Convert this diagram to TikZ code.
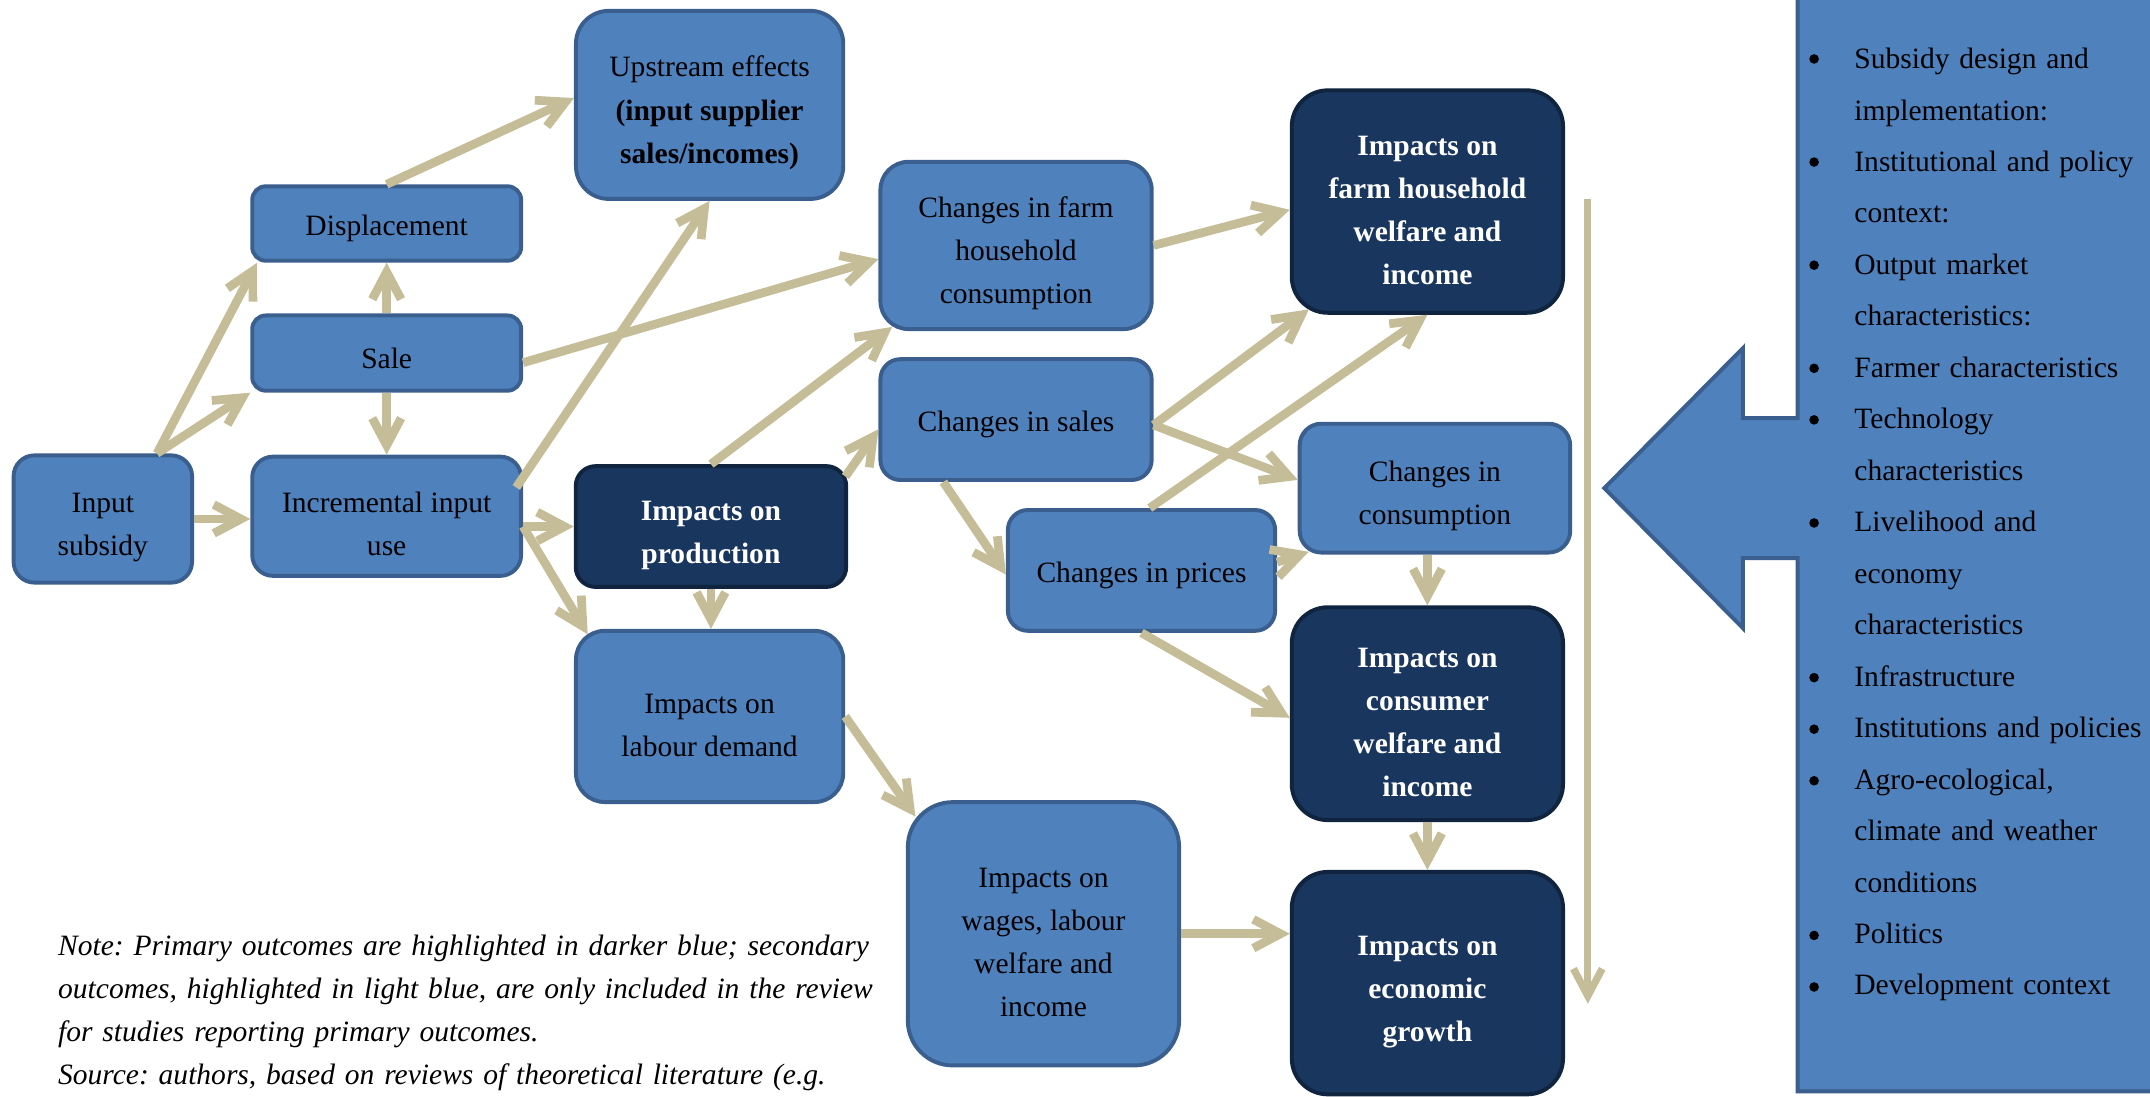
\documentclass[tikz,border=0pt]{standalone}
\usepackage{fontspec}
\setmainfont{Liberation Serif}
\usetikzlibrary{arrows.meta}
\usetikzlibrary{calc}
\frenchspacing

\definecolor{lightfill}{HTML}{4F81BD}
\definecolor{lightedge}{HTML}{3A5F8E}
\definecolor{darkfill}{HTML}{18365E}
\definecolor{darkedge}{HTML}{10243F}
\definecolor{flowtan}{HTML}{C4BD97}

\newcommand{\boxfont}{\fontsize{10.5}{15.3}\selectfont}
\newcommand{\listfont}{\fontsize{10.5}{18.3}\selectfont}
\newcommand{\lift}{\rule{0pt}{13pt}}

\tikzset{
  lightbox/.style={draw=lightedge, fill=lightfill, line width=1.4pt, rounded corners=#1, align=center, inner sep=0pt, font=\boxfont, execute at begin node={\rule{0pt}{11pt}}},
  lightbox/.default=0.25cm,
  darkbox/.style={draw=darkedge, fill=darkfill, line width=1.4pt, rounded corners=#1, align=center, inner sep=0pt, text=white, font=\boxfont\bfseries, execute at begin node={\rule{0pt}{11pt}}},
  darkbox/.default=0.45cm,
  flow/.style={draw=flowtan, line width=3.1pt, -{Straight Barb[length=0.34cm, width=0.36cm]}},
  dot/.style={circle, fill=black, inner sep=0pt, minimum size=0.12cm},
}

\begin{document}
\begin{tikzpicture}[x=0.01714cm, y=-0.01714cm]
\useasboundingbox (0,0) rectangle (1568,800);
\clip (0,0) rectangle (1568,800);

% context panel with arrow
\draw[draw=lightedge, fill=lightfill, line width=1.4pt, line join=miter] (1311,-10) -- (1311,305) -- (1271,305) -- (1271,254) -- (1170,356) -- (1271,458) -- (1271,407) -- (1311,407) -- (1311,796) -- (1580,796) -- (1580,-10) -- cycle;

% chain boxes
\node[lightbox=0.26cm, minimum width=2.23cm, minimum height=1.59cm] (subsidy) at (75,378.5) {\lift Input\\subsidy};
\node[lightbox=0.17cm, minimum width=3.36cm, minimum height=0.93cm] (displace) at (282,163) {Displacement};
\node[lightbox=0.17cm, minimum width=3.36cm, minimum height=0.94cm] (sale) at (282,257.5) {Sale};
\node[lightbox=0.26cm, minimum width=3.36cm, minimum height=1.49cm] (increm) at (282,376.5) {\lift Incremental input\\use};
\node[lightbox=0.41cm, minimum width=3.34cm, minimum height=2.35cm] (upstream) at (517.5,76.5) {\lift Upstream effects\\\textbf{(input supplier}\\\textbf{sales/incomes)}};
\node[darkbox=0.25cm, minimum width=3.38cm, minimum height=1.51cm] (prod) at (518.5,384) {\lift Impacts on\\production};
\node[lightbox=0.36cm, minimum width=3.34cm, minimum height=2.14cm] (labour) at (517.5,522.5) {\lift Impacts on\\labour demand};
\node[lightbox=0.35cm, minimum width=3.39cm, minimum height=2.09cm] (farmcons) at (741,179) {\lift Changes in farm\\household\\consumption};
\node[lightbox=0.25cm, minimum width=3.39cm, minimum height=1.51cm] (sales) at (741,306) {Changes in sales};
\node[lightbox=0.25cm, minimum width=3.34cm, minimum height=1.51cm] (prices) at (832.5,416) {Changes in prices};
\node[lightbox=0.27cm, minimum width=3.38cm, minimum height=1.61cm] (cons) at (1046.5,356) {\lift Changes in\\consumption};
\node[darkbox, minimum width=3.39cm, minimum height=2.78cm] (farmwelf) at (1041,147) {\lift Impacts on\\farm household\\welfare and\\income};
\node[darkbox, minimum width=3.39cm, minimum height=2.66cm] (conswelf) at (1041,520.5) {\lift Impacts on\\consumer\\welfare and\\income};
\node[lightbox=0.56cm, minimum width=3.39cm, minimum height=3.29cm] (wages) at (761,681) {\lift Impacts on\\wages, labour\\welfare and\\income};
\node[darkbox, minimum width=3.39cm, minimum height=2.78cm] (growth) at (1041,717) {\lift Impacts on\\economic\\growth};

% links
\draw[flow] ($(subsidy.north east)+(-27,0)$) -- ($(displace.south west)+(5,0)$);
\draw[flow] ($(subsidy.north east)+(-27,0)$) -- (sale.south west);
\draw[flow] (subsidy.east) -- (subsidy.east -| increm.west);
\draw[flow] (sale) -- (displace);
\draw[flow] (sale) -- (increm);
\draw[flow] (displace.north) -- ($(upstream.west)+(0,-5)$);
\draw[flow] ($(increm.east)+(-5,-21)$) -- (upstream.south);
\draw[flow] ($(sale.east)+(0,7)$) -- ($(farmcons.west)+(0,10)$);
\draw[flow] (increm.east |- prod.west) -- (prod.west);
\draw[flow] (increm.east |- prod.west) -- ($(labour.north west)+(10,4)$);
\draw[flow] (prod.south) -- (prod.south |- labour.north);
\draw[flow] (prod.north) -- ($(farmcons.south west)+(10,-3)$);
\draw[flow] ($(prod.north east)+(-2,9)$) -- ($(sales.west)+(0,7)$);
\draw[flow] (farmcons.east) -- ($(farmwelf.west)+(0,6)$);
\draw[flow] ($(sales.east)+(0,4)$) -- ($(farmwelf.south west)+(14,-4)$);
\draw[flow] ($(sales.east)+(0,4)$) -- ($(cons.west)+(0,-6)$);
\draw[flow] ($(prices.north)+(6,0)$) -- (farmwelf.south);
\draw[flow] ($(sales.south)+(-53,0)$) -- ($(prices.west)+(0,3)$);
\draw[flow] ($(prices.east)+(0,-6)$) -- ($(cons.south west)+(8,-2)$);
\draw[flow] (cons.south -| conswelf.north) -- (conswelf.north);
\draw[flow] (prices.south) -- ($(conswelf.west)+(0,3)$);
\draw[flow] (conswelf) -- (growth);
\draw[flow] (labour.east) -- ($(wages.north west)+(7,12)$);
\draw[flow] (wages.east) -- (wages.east -| growth.west);

% context arrow
\coordinate (ctxtop) at (1158,145);
\coordinate (ctxbot) at (1158,732);
\draw[flow, line width=2.6pt] (ctxtop) -- (ctxbot);

% context list
\foreach \k in {0,2,4,6,7,9,12,13,14,17,18}
  \node[dot] (dot\k) at (1323,{43+37.6*\k}) {};
\node[anchor=base west, inner sep=0pt, text width=3.7cm, align=left, font=\listfont] (factors) at (1352,50) {Subsidy design and\\implementation:\\Institutional and policy\\context:\\Output market\\characteristics:\\Farmer characteristics\\Technology\\characteristics\\Livelihood and\\economy\\characteristics\\Infrastructure\\Institutions and policies\\Agro-ecological,\\climate and weather\\conditions\\Politics\\Development context};

% note
\node[anchor=base west, inner sep=0pt, text width=11cm, align=left, font=\boxfont\itshape] (note) at (42,697) {Note: Primary outcomes are highlighted in darker blue; secondary\\outcomes, highlighted in light blue, are only included in the review\\for studies reporting primary outcomes.\\Source: authors, based on reviews of theoretical literature (e.g.};
\end{tikzpicture}
\end{document}
